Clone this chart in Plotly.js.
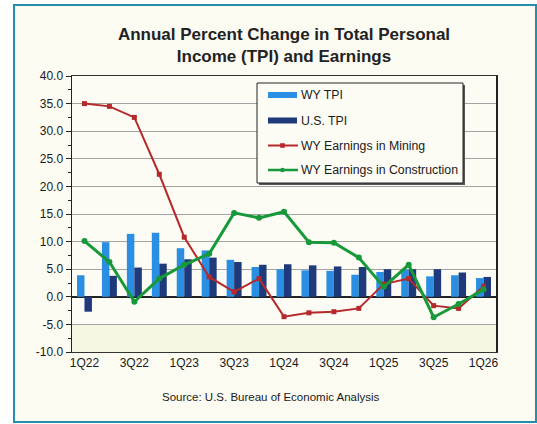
<!DOCTYPE html>
<html>
<head>
<meta charset="utf-8">
<script src="https://cdn.plot.ly/plotly-3.0.1.min.js"></script>
<style>
  html, body { margin: 0; padding: 0; background: #ffffff; }
  #frame { position: absolute; left: 13px; top: 4px; width: 520px; height: 415px;
           border: 2.5px solid #2290ab; background: #fbfbf2; }
  #chart { position: absolute; left: 0; top: 0; width: 537px; height: 424px; }
</style>
</head>
<body>
<div id="frame"></div>
<div id="chart"></div>
<script>
// ---- data ----
const quarters = ['1Q22','2Q22','3Q22','4Q22','1Q23','2Q23','3Q23','4Q23','1Q24','2Q24','3Q24','4Q24','1Q25','2Q25','3Q25','4Q25','1Q26'];
const labeledQuarters = ['1Q22','3Q22','1Q23','3Q23','1Q24','3Q24','1Q25','3Q25','1Q26'];
const wyTPI = [3.9, 9.9, 11.4, 11.6, 8.8, 8.4, 6.7, 5.4, 5.0, 4.8, 4.7, 4.0, 4.5, 4.9, 3.7, 3.9, 3.4];
const usTPI = [-2.7, 3.8, 5.3, 6.0, 6.8, 7.1, 6.3, 5.8, 5.9, 5.7, 5.5, 5.4, 5.0, 5.0, 5.0, 4.4, 3.6];
const wyMining = [35.0, 34.5, 32.5, 22.2, 10.8, 3.6, 0.9, 3.3, -3.6, -2.9, -2.7, -2.1, 2.3, 3.3, -1.6, -2.1, 1.9];
const wyConstruction = [10.1, 6.3, -0.9, 3.3, 5.8, 7.8, 15.2, 14.3, 15.4, 9.9, 9.8, 7.1, 1.8, 5.8, -3.7, -1.3, 1.3];
const yTickVals = [-10, -5, 0, 5, 10, 15, 20, 25, 30, 35, 40];
const seriesNames = ['WY TPI', 'U.S. TPI', 'WY Earnings in Mining', 'WY Earnings in Construction'];
const colors = ['#2a8fe2', '#1f3a7a', '#b5292b', '#17993a'];

// ---- layout geometry (pixels) ----
const W = 537, H = 424;
const M = { l: 72, r: 41, t: 76, b: 72 };
const PW = W - M.l - M.r, PH = H - M.t - M.b;
const px = x => (x - M.l) / PW;
const py = y => (H - M.b - y) / PH;
const FONT = 'Liberation Sans, Arial, sans-serif';

const traces = [
  { type: 'bar', name: seriesNames[0], x: quarters, y: wyTPI, marker: { color: colors[0] }, showlegend: false },
  { type: 'bar', name: seriesNames[1], x: quarters, y: usTPI, marker: { color: colors[1] }, showlegend: false },
  { type: 'scatter', mode: 'lines+markers', name: seriesNames[2], x: quarters, y: wyMining,
    line: { color: colors[2], width: 2 }, marker: { color: colors[2], size: 5, symbol: 'square' }, showlegend: false },
  { type: 'scatter', mode: 'lines+markers', name: seriesNames[3], x: quarters, y: wyConstruction,
    line: { color: colors[3], width: 3 }, marker: { color: colors[3], size: 6, symbol: 'circle' }, showlegend: false }
];

// boundary ticks drawn on the zero line
const boundaries = quarters.slice(1).map((q, i) => i + 0.5);

// manual legend
const lg = { x0: 257, x1: 463, y0: 83, y1: 183 };
const rows = [95, 120.5, 145.5, 170];
const symX0 = 268, symX1 = 297, txtX = 299;
const shapes = [
  { type: 'rect', xref: 'paper', yref: 'y', x0: 0, x1: 1, y0: -10, y1: -5,
    fillcolor: '#f6f6e2', line: { width: 0 }, layer: 'below' },
  { type: 'rect', xref: 'paper', yref: 'paper', x0: px(lg.x0 + 2), x1: px(lg.x1 + 2), y0: py(lg.y1 + 2), y1: py(lg.y0 + 2),
    fillcolor: '#555555', line: { width: 0 }, layer: 'above' },
  { type: 'rect', xref: 'paper', yref: 'paper', x0: px(lg.x0), x1: px(lg.x1), y0: py(lg.y1), y1: py(lg.y0),
    fillcolor: '#fcfcf5', line: { color: '#222222', width: 1 }, layer: 'above' }
];
const annotations = [];
seriesNames.forEach((name, i) => {
  const yc = rows[i];
  if (i < 2) {
    shapes.push({ type: 'rect', xref: 'paper', yref: 'paper', x0: px(symX0), x1: px(symX1),
      y0: py(yc + 3), y1: py(yc - 3), fillcolor: colors[i], line: { width: 0 }, layer: 'above' });
  } else {
    shapes.push({ type: 'line', xref: 'paper', yref: 'paper', x0: px(symX0), x1: px(symX1 + 1),
      y0: py(yc), y1: py(yc), line: { color: colors[i], width: i === 2 ? 2 : 2.5 }, layer: 'above' });
    const mx = (symX0 + symX1) / 2, r = 2.3;
    shapes.push({ type: i === 2 ? 'rect' : 'circle', xref: 'paper', yref: 'paper',
      x0: px(mx - r), x1: px(mx + r), y0: py(yc + r), y1: py(yc - r),
      fillcolor: colors[i], line: { width: 0 }, layer: 'above' });
  }
  annotations.push({ xref: 'paper', yref: 'paper', x: px(txtX), y: py(yc), xanchor: 'left', yanchor: 'middle',
    text: name, showarrow: false, font: { family: FONT, size: 12.3, color: '#1a1a1a' } });
});
annotations.push({ xref: 'paper', yref: 'paper', x: px(271), y: py(397), xanchor: 'center', yanchor: 'middle',
  text: 'Source: U.S. Bureau of Economic Analysis', showarrow: false,
  font: { family: FONT, size: 11.5, color: '#1a1a1a' } });

const layout = {
  width: W, height: H,
  margin: M,
  paper_bgcolor: 'rgba(0,0,0,0)',
  plot_bgcolor: '#fcfcf5',
  font: { family: FONT, size: 12, color: '#1a1a1a' },
  title: { text: 'Annual Percent Change in Total Personal<br>Income (TPI) and Earnings',
    x: 0.5, xref: 'paper', xanchor: 'center', y: 1 - 40 / H, yref: 'container', yanchor: 'top',
    font: { family: FONT, size: 17, color: '#222222', weight: 'bold' } },
  barmode: 'group', bargap: 0.4, bargroupgap: 0,
  showlegend: false,
  xaxis: { type: 'category', categoryorder: 'array', categoryarray: quarters,
    tickmode: 'array', tickvals: labeledQuarters, ticktext: labeledQuarters,
    ticks: '', showgrid: false, showline: true, linecolor: '#333333', linewidth: 1, mirror: true,
    tickfont: { family: FONT, size: 12, color: '#1a1a1a' }, range: [-0.5, quarters.length - 0.5] },
  xaxis2: { overlaying: 'x', anchor: 'free', position: py(H - M.b - PH * 10 / 50), side: 'bottom',
    range: [-0.5, quarters.length - 0.5], tickmode: 'array', tickvals: boundaries,
    ticks: 'outside', ticklen: 4, tickcolor: '#222222', tickwidth: 1, showticklabels: false,
    showgrid: false, showline: false, zeroline: false },
  yaxis: { range: [-10, 40], tickmode: 'array', tickvals: yTickVals,
    ticktext: yTickVals.map(v => v.toFixed(1)),
    ticks: 'outside', ticklen: 5, tickcolor: '#222222',
    minor: { dtick: 2.5, ticks: 'outside', ticklen: 3, tickcolor: '#222222', showgrid: false },
    showgrid: true, gridcolor: '#a3a3a3', gridwidth: 1,
    zeroline: true, zerolinecolor: '#222222', zerolinewidth: 1.5,
    showline: true, linecolor: '#222222', linewidth: 1.5, mirror: true,
    tickfont: { family: FONT, size: 12, color: '#1a1a1a' } },
  shapes: shapes,
  annotations: annotations
};

Plotly.newPlot('chart', traces, layout, { displayModeBar: false, staticPlot: true });
</script>
</body>
</html>
